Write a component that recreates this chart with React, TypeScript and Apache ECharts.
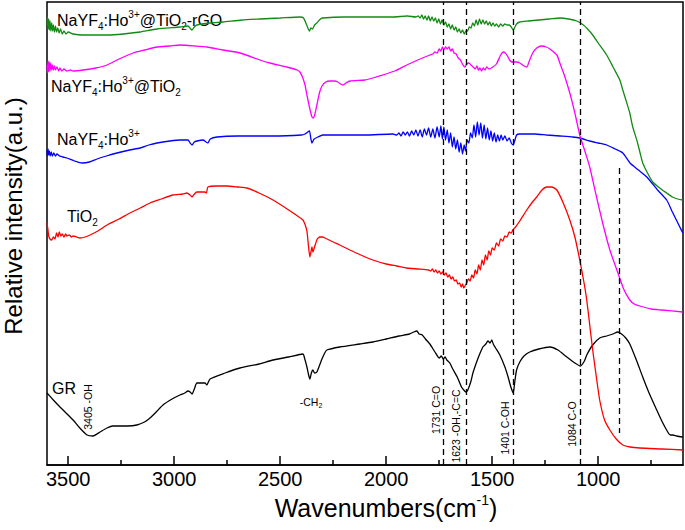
import React, { useEffect, useRef } from "react";
import * as echarts from "echarts";

const FONT = "Liberation Sans, Arial, Helvetica, sans-serif";

// x-axis ticks (wavenumber, cm^-1)
const majorTicks = [1000, 1500, 2000, 2500, 3000, 3500];
const minorTicks = [750, 1250, 1750, 2250, 2750, 3250];

// peak assignments (dashed guide lines)
const peakLines = [1731, 1623, 1401, 1084];
const shortLine = 900;
const shortLineRange = [297, 32];

// spectra: [wavenumber, relative intensity (a.u.)]
const grSpectrum: number[][] = [
  [3600, 72], [3570, 65], [3539, 58], [3510, 52], [3477, 45], [3445, 37], [3411, 30], [3383, 29], [3350, 33],
  [3317, 37], [3290, 39], [3256, 39], [3220, 39], [3176, 40], [3140, 43], [3114, 47], [3085, 53], [3053, 60],
  [3010, 66], [2973, 70], [2950, 72], [2935, 74], [2925, 73], [2916, 71], [2905, 76], [2893, 82], [2870, 82],
  [2855, 82], [2846, 80], [2831, 86], [2760, 92], [2690, 97], [2600, 101], [2534, 105], [2460, 108], [2393, 111],
  [2384, 106], [2374, 98], [2366, 90], [2360, 86], [2353, 92], [2346, 95], [2338, 92], [2327, 93], [2305, 105],
  [2290, 112], [2280, 115], [2219, 118], [2124, 121], [2063, 123], [2000, 126], [1940, 129], [1890, 131],
  [1870, 133], [1855, 134], [1845, 131], [1830, 130], [1815, 126], [1794, 121], [1770, 113], [1750, 107],
  [1740, 109], [1731, 106], [1722, 108], [1714, 105], [1700, 102], [1686, 96], [1665, 88], [1645, 78],
  [1630, 74], [1623, 73], [1615, 75], [1600, 84], [1591, 92], [1570, 105], [1555, 113], [1544, 118],
  [1530, 121], [1520, 124], [1510, 122], [1502, 125], [1495, 121], [1484, 117], [1464, 110], [1440, 98],
  [1425, 88], [1412, 78], [1401, 72], [1393, 84], [1385, 95], [1370, 103], [1350, 109], [1323, 113],
  [1280, 116], [1228, 118], [1190, 115], [1148, 108], [1110, 102], [1084, 99], [1065, 104], [1054, 110],
  [1026, 120], [993, 127], [960, 129], [930, 131], [908, 133], [890, 131], [870, 127], [851, 121], [820, 105],
  [790, 88], [760, 72], [724, 55], [700, 44], [672, 33], [660, 30], [648, 30], [630, 29], [601, 28],
];

const tio2Spectrum: number[][] = [
  [3600, 242], [3596, 236], [3592, 229], [3586, 226], [3578, 225], [3570, 228], [3562, 226], [3555, 232],
  [3548, 228], [3542, 233], [3535, 229], [3528, 231], [3520, 228], [3512, 231], [3506, 229], [3495, 230],
  [3485, 228], [3477, 229], [3460, 228], [3444, 227], [3420, 228], [3397, 230], [3360, 234], [3317, 240],
  [3260, 246], [3209, 252], [3160, 257], [3114, 262], [3060, 266], [3006, 270], [2960, 271], [2940, 272],
  [2925, 270], [2916, 268], [2905, 271], [2893, 273], [2870, 273], [2855, 273], [2848, 272], [2841, 278],
  [2800, 279], [2751, 279], [2700, 278], [2657, 277], [2600, 272], [2534, 265], [2460, 255], [2393, 245],
  [2382, 240], [2374, 234], [2368, 222], [2360, 208], [2354, 214], [2350, 218], [2346, 213], [2338, 218],
  [2325, 226], [2313, 228], [2300, 228], [2289, 227], [2250, 223], [2219, 220], [2171, 215], [2120, 210],
  [2063, 205], [2000, 201], [1950, 199], [1903, 197], [1850, 196], [1800, 195], [1790, 194], [1782, 196],
  [1774, 193], [1766, 195], [1758, 192], [1750, 194], [1742, 191], [1734, 193], [1726, 190], [1718, 192],
  [1710, 188], [1702, 190], [1694, 186], [1686, 188], [1678, 184], [1670, 185], [1662, 181], [1654, 182],
  [1646, 178], [1640, 181], [1634, 177], [1626, 180], [1620, 182], [1612, 186], [1604, 184], [1596, 190],
  [1588, 187], [1580, 195], [1572, 191], [1564, 200], [1556, 195], [1548, 205], [1540, 200], [1532, 210],
  [1524, 205], [1516, 214], [1508, 210], [1500, 217], [1490, 215], [1480, 222], [1470, 219], [1460, 226],
  [1450, 224], [1440, 229], [1430, 228], [1420, 233], [1410, 232], [1403, 235], [1390, 238], [1370, 244],
  [1337, 255], [1310, 263], [1290, 268], [1265, 275], [1243, 278], [1220, 278], [1195, 275], [1165, 262],
  [1134, 245], [1110, 228], [1087, 205], [1065, 180], [1054, 165], [1040, 140], [1026, 115], [1010, 90],
  [993, 65], [970, 45], [945, 35], [915, 26], [884, 20], [850, 18], [804, 17], [700, 16], [601, 15],
];

const nayfSpectrum: number[][] = [
  [3600, 315], [3598, 309], [3595, 316], [3592, 310], [3589, 314], [3585, 309], [3580, 313], [3575, 309],
  [3568, 312], [3560, 309], [3553, 311], [3540, 309], [3525, 308], [3506, 307], [3470, 304], [3435, 302],
  [3400, 303], [3364, 306], [3320, 309], [3270, 312], [3210, 315], [3161, 317], [3120, 320], [3081, 322],
  [3020, 324], [2973, 325], [2935, 325], [2925, 322], [2916, 320], [2905, 323], [2893, 324], [2864, 325],
  [2850, 323], [2841, 322], [2830, 326], [2798, 328], [2700, 329], [2534, 329], [2400, 330], [2383, 331],
  [2370, 333], [2362, 334], [2355, 326], [2350, 322], [2340, 326], [2322, 328], [2300, 330], [2280, 330],
  [2100, 330], [1969, 331], [1950, 330], [1940, 332], [1930, 329], [1920, 333], [1910, 330], [1900, 333],
  [1890, 329], [1880, 334], [1870, 330], [1860, 335], [1850, 329], [1840, 335], [1830, 328], [1820, 336],
  [1810, 330], [1800, 337], [1790, 328], [1780, 336], [1770, 327], [1760, 338], [1750, 328], [1742, 339],
  [1735, 326], [1728, 338], [1720, 325], [1712, 335], [1704, 322], [1696, 332], [1688, 318], [1680, 328],
  [1672, 316], [1664, 325], [1656, 313], [1648, 322], [1640, 311], [1632, 320], [1626, 314], [1618, 325],
  [1610, 322], [1602, 332], [1594, 327], [1586, 340], [1578, 328], [1570, 343], [1562, 330], [1554, 342],
  [1546, 327], [1538, 340], [1530, 326], [1522, 337], [1514, 325], [1506, 334], [1498, 324], [1490, 332],
  [1482, 323], [1474, 330], [1466, 324], [1458, 330], [1450, 325], [1440, 329], [1430, 324], [1420, 327],
  [1410, 322], [1401, 320], [1394, 324], [1385, 330], [1370, 331], [1340, 331], [1300, 331], [1243, 330],
  [1180, 329], [1120, 328], [1087, 327], [1040, 324], [1000, 322], [960, 320], [920, 316], [884, 312],
  [850, 302], [810, 295], [771, 288], [720, 275], [677, 265], [650, 253], [615, 238], [601, 232],
];

const coatedSpectrum: number[][] = [
  [3600, 400], [3598, 392], [3595, 404], [3592, 393], [3589, 403], [3586, 394], [3582, 402], [3578, 395],
  [3574, 400], [3570, 395], [3565, 399], [3560, 395], [3553, 398], [3545, 394], [3539, 397], [3530, 394],
  [3520, 396], [3506, 394], [3490, 395], [3477, 394], [3430, 395], [3370, 397], [3317, 400], [3260, 406],
  [3194, 412], [3140, 415], [3081, 418], [3020, 419], [2973, 420], [2900, 419], [2846, 418], [2770, 415],
  [2690, 412], [2596, 405], [2549, 402], [2470, 398], [2420, 395], [2407, 393], [2395, 388], [2383, 380],
  [2372, 368], [2360, 356], [2350, 348], [2343, 347], [2335, 352], [2327, 360], [2315, 372], [2303, 379],
  [2285, 383], [2266, 384], [2245, 384], [2228, 383], [2215, 381], [2204, 380], [2190, 382], [2171, 384],
  [2100, 385], [2063, 387], [1960, 394], [1903, 400], [1840, 406], [1794, 410], [1780, 411], [1770, 413],
  [1760, 412], [1750, 416], [1742, 414], [1735, 418], [1728, 415], [1720, 418], [1712, 416], [1704, 418],
  [1696, 414], [1688, 416], [1680, 412], [1670, 411], [1660, 407], [1650, 405], [1640, 401], [1629, 398],
  [1620, 401], [1610, 402], [1600, 400], [1590, 398], [1580, 396], [1572, 399], [1565, 395], [1558, 397],
  [1550, 394], [1542, 397], [1534, 395], [1526, 398], [1515, 396], [1497, 398], [1480, 401], [1460, 410],
  [1448, 413], [1438, 412], [1428, 409], [1418, 405], [1407, 403], [1395, 403], [1384, 403], [1370, 402],
  [1350, 399], [1337, 398], [1325, 404], [1309, 412], [1290, 417], [1266, 419], [1245, 418], [1228, 416],
  [1195, 410], [1181, 402], [1160, 390], [1134, 372], [1110, 352], [1087, 330], [1060, 312], [1040, 298],
  [1010, 270], [979, 242], [945, 215], [912, 195], [880, 176], [851, 165], [830, 161], [804, 159], [750, 156],
  [700, 155], [601, 153],
];

const rgoSpectrum: number[][] = [
  [3600, 440], [3598, 448], [3595, 436], [3592, 446], [3589, 435], [3586, 444], [3582, 434], [3578, 442],
  [3574, 434], [3570, 440], [3565, 433], [3560, 439], [3555, 433], [3549, 437], [3543, 432], [3536, 436],
  [3528, 431], [3520, 434], [3510, 431], [3500, 433], [3477, 431], [3430, 430], [3380, 430], [3317, 430],
  [3240, 431], [3161, 433], [3081, 436], [2973, 438], [2935, 439], [2922, 436], [2916, 435], [2905, 438],
  [2893, 440], [2830, 442], [2770, 443], [2680, 445], [2596, 446], [2500, 447], [2407, 448], [2390, 447],
  [2375, 440], [2362, 434], [2355, 437], [2348, 436], [2338, 440], [2327, 442], [2310, 446], [2299, 447],
  [2200, 448], [2100, 448], [1969, 448], [1900, 449], [1860, 448], [1850, 449], [1840, 447], [1832, 450],
  [1824, 446], [1816, 449], [1808, 445], [1800, 449], [1792, 444], [1784, 448], [1776, 444], [1768, 447],
  [1760, 442], [1752, 446], [1744, 441], [1736, 445], [1728, 440], [1720, 443], [1712, 438], [1704, 441],
  [1696, 436], [1688, 440], [1680, 435], [1672, 438], [1664, 433], [1656, 436], [1648, 432], [1640, 435],
  [1632, 431], [1624, 434], [1616, 434], [1608, 438], [1600, 437], [1592, 442], [1584, 439], [1576, 445],
  [1568, 440], [1560, 446], [1552, 441], [1544, 445], [1536, 441], [1528, 444], [1520, 440], [1512, 443],
  [1504, 439], [1496, 442], [1488, 439], [1480, 441], [1470, 438], [1460, 441], [1450, 439], [1440, 441],
  [1430, 440], [1420, 440], [1410, 438], [1401, 435], [1395, 437], [1385, 441], [1370, 443], [1330, 444],
  [1280, 445], [1230, 446], [1181, 447], [1140, 446], [1101, 444], [1070, 440], [1050, 436], [1026, 430],
  [1000, 422], [960, 410], [930, 398], [898, 385], [884, 375], [865, 362], [851, 352], [837, 338],
  [818, 325], [800, 310], [790, 302], [770, 293], [743, 283], [710, 277], [677, 272], [650, 268],
  [625, 266], [601, 265],
];

const seriesNames = ["GR", "TiO2", "NaYF4:Ho3+", "NaYF4:Ho3+@TiO2", "NaYF4:Ho3+@TiO2-rGO"];
const seriesColors = ["#000000", "#ff0000", "#0000ff", "#ff00ff", "#138a13"];
const seriesData = [grSpectrum, tio2Spectrum, nayfSpectrum, coatedSpectrum, rgoSpectrum];

const labelRich = {
  n: { fontSize: 16, lineHeight: 22, fontFamily: FONT, fill: "#000", color: "#000" },
  sub: { fontSize: 10, lineHeight: 10, verticalAlign: "bottom", fontFamily: FONT, fill: "#000", color: "#000" },
  sup: { fontSize: 10, lineHeight: 10, verticalAlign: "top", fontFamily: FONT, fill: "#000", color: "#000" },
};

const peakRich = {
  n: { fontSize: 10.5, lineHeight: 13, fontFamily: FONT, fill: "#000", color: "#000" },
  sub: { fontSize: 7, lineHeight: 7, verticalAlign: "bottom", fontFamily: FONT, fill: "#000", color: "#000" },
};

function seriesLabel(text: string, x: number, y: number) {
  return {
    type: "text",
    x,
    y,
    silent: true,
    style: {
      text,
      rich: labelRich,
      fontFamily: FONT,
      fontSize: 16,
      fill: "#000",
      align: "left",
      textAlign: "left",
      verticalAlign: "middle",
      textVerticalAlign: "middle",
    },
  };
}

function peakLabel(text: string, x: number, y: number, rotate = true) {
  return {
    type: "text",
    x,
    y,
    rotation: rotate ? Math.PI / 2 : 0,
    silent: true,
    style: {
      text,
      rich: peakRich,
      fontFamily: FONT,
      fontSize: 10.5,
      fill: "#000",
      align: "center",
      textAlign: "center",
      verticalAlign: "middle",
      textVerticalAlign: "middle",
    },
  };
}

export default function App() {
  const ref = useRef<HTMLDivElement>(null);
  useEffect(() => {
    if (!ref.current) return;
    const chart = echarts.init(ref.current, undefined, { renderer: "svg" });
    const lines: any[] = seriesData.map((d, i) => ({
      name: seriesNames[i],
      type: "line",
      data: d,
      showSymbol: false,
      smooth: 0.2,
      silent: true,
      lineStyle: { color: seriesColors[i], width: 1.3 },
      itemStyle: { color: seriesColors[i] },
      z: 3,
    }));
    lines[0].markLine = {
      silent: true,
      symbol: "none",
      label: { show: false },
      animation: false,
      lineStyle: { color: "#000", type: [6, 4], width: 1.3 },
      data: [
        ...peakLines.map((v) => ({ xAxis: v })),
        [{ coord: [shortLine, shortLineRange[0]] }, { coord: [shortLine, shortLineRange[1]] }],
      ],
    };
    const option: any = {
      animation: false,
      textStyle: { fontFamily: FONT },
      grid: { left: 47, right: 2, top: 2, bottom: 65, show: true, borderColor: "#000", borderWidth: 1.5 },
      xAxis: [
        {
          type: "value",
          min: 600,
          max: 3600,
          inverse: true,
          position: "bottom",
          axisLine: { show: true, lineStyle: { color: "#000", width: 1.5 } },
          axisTick: { show: true, inside: true, length: 9, customValues: majorTicks, lineStyle: { color: "#000", width: 1.5 } },
          axisLabel: {
            customValues: majorTicks,
            fontSize: 20,
            color: "#000",
            margin: 4,
            fontFamily: FONT,
            formatter: (v: number) => String(v),
          },
          splitLine: { show: false },
        },
        {
          type: "value",
          min: 600,
          max: 3600,
          inverse: true,
          position: "bottom",
          offset: 0,
          axisLine: { show: true, lineStyle: { color: "rgba(0,0,0,0)", width: 1 } },
          axisTick: { show: true, inside: true, length: 5, customValues: minorTicks, lineStyle: { color: "#000", width: 1.5 } },
          axisLabel: { show: false, customValues: minorTicks },
          splitLine: { show: false },
        },
      ],
      yAxis: {
        type: "value",
        min: 0,
        max: 463,
        axisLine: { show: false },
        axisTick: { show: false },
        axisLabel: { show: false },
        splitLine: { show: false },
      },
      series: lines,
      graphic: [
        {
          type: "text",
          x: 386,
          y: 508,
          silent: true,
          style: {
            text: "{n|Wavenumbers(cm}{sup|-1}{n|)}",
            rich: {
              n: { fontSize: 25, lineHeight: 30, fontFamily: FONT, fill: "#000", color: "#000" },
              sup: { fontSize: 14, lineHeight: 14, verticalAlign: "top", fontFamily: FONT, fill: "#000", color: "#000" },
            },
            fontFamily: FONT,
            fontSize: 25,
            fill: "#000",
            align: "center",
            textAlign: "center",
            verticalAlign: "middle",
            textVerticalAlign: "middle",
          },
        },
        {
          type: "text",
          x: 13,
          y: 216,
          rotation: Math.PI / 2,
          silent: true,
          style: {
            text: "Relative intensity(a.u.)",
            fontSize: 24,
            fontFamily: FONT,
            fill: "#000",
            align: "center",
            textAlign: "center",
            verticalAlign: "middle",
            textVerticalAlign: "middle",
          },
        },
        seriesLabel("{n|NaYF}{sub|4}{n|:Ho}{sup|3+}{n|@TiO}{sub|2}{n|-rGO}", 57, 20),
        seriesLabel("{n|NaYF}{sub|4}{n|:Ho}{sup|3+}{n|@TiO}{sub|2}", 51, 86),
        seriesLabel("{n|NaYF}{sub|4}{n|:Ho}{sup|3+}", 57, 139),
        seriesLabel("{n|TiO}{sub|2}", 67, 216),
        seriesLabel("{n|GR}", 52, 388),
        peakLabel("{n|3405 -OH}", 88, 407),
        peakLabel("{n|-CH}{sub|2}", 311, 402, false),
        peakLabel("{n|1731 C=O}", 436, 410),
        peakLabel("{n|1623 -OH,-C=C}", 456, 426),
        peakLabel("{n|1401 C-OH}", 505, 428),
        peakLabel("{n|1084 C-O}", 572, 424),
      ],
    };
    chart.setOption(option);
    return () => chart.dispose();
  }, []);
  return (
    <div
      ref={ref}
      style={{ position: "absolute", left: 0, top: 0, width: 685, height: 530, background: "#fff" }}
    />
  );
}
